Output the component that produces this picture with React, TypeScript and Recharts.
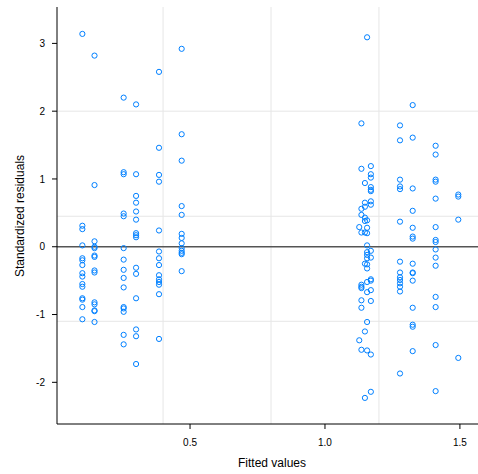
import React from 'react';
import { ScatterChart, Scatter, XAxis, YAxis, ReferenceLine, Label } from 'recharts';

// fitted value of each group of observations
const fittedLevels = [0.101, 0.146, 0.254, 0.3, 0.385, 0.469, 1.127, 1.135, 1.148, 1.156, 1.17, 1.278, 1.325, 1.41, 1.494];

// standardized residuals, one array per fitted level
const res0101 = [3.14, 0.31, 0.26, 0.02, -0.17, -0.2, -0.27, -0.39, -0.44, -0.55, -0.59, -0.76, -0.78, -0.89, -1.07];
const res0146 = [2.82, 0.91, 0.08, 0.0, -0.02, -0.13, -0.15, -0.35, -0.38, -0.82, -0.85, -0.94, -0.95, -1.11];
const res0254 = [2.2, 1.1, 1.07, 0.49, 0.45, -0.02, -0.19, -0.34, -0.46, -0.6, -0.89, -0.91, -0.96, -1.3, -1.44];
const res0300 = [2.1, 1.07, 0.75, 0.65, 0.52, 0.4, 0.2, 0.17, 0.14, -0.31, -0.4, -0.76, -1.22, -1.32, -1.73];
const res0385 = [2.58, 1.46, 1.06, 0.96, 0.24, -0.07, -0.17, -0.27, -0.42, -0.48, -0.52, -0.56, -0.7, -1.36];
const res0469 = [2.92, 1.66, 1.27, 0.6, 0.47, 0.19, 0.13, 0.05, -0.02, -0.06, -0.09, -0.11, -0.36];
const res1127 = [0.29, -1.38];
const res1135 = [1.82, 1.15, 0.56, 0.47, 0.21, -0.56, -0.59, -0.61, -0.79, -0.9, -1.52];
const res1148 = [0.94, 0.65, 0.59, 0.43, 0.38, 0.21, -0.25, -1.25, -2.23];
const res1156 = [3.09, 0.39, 0.28, 0.2, 0.02, -0.08, -0.12, -0.17, -0.26, -0.32, -0.52, -0.67, -1.11, -1.53];
const res1170 = [1.19, 1.07, 1.02, 0.88, 0.84, 0.82, 0.67, 0.62, -0.06, -0.16, -0.48, -0.5, -0.64, -0.8, -1.59, -2.14];
const res1278 = [1.79, 1.57, 0.99, 0.89, 0.85, 0.37, -0.22, -0.38, -0.45, -0.49, -0.54, -0.59, -0.66, -1.87];
const res1325 = [2.09, 1.61, 0.86, 0.53, 0.28, 0.15, 0.12, -0.25, -0.38, -0.39, -0.5, -0.9, -1.15, -1.18, -1.54];
const res1410 = [1.49, 1.36, 0.99, 0.96, 0.71, 0.29, 0.1, 0.07, -0.04, -0.16, -0.28, -0.74, -0.89, -1.45, -2.13];
const res1494 = [0.77, 0.74, 0.4, -1.64];

const residualGroups = [
  res0101, res0146, res0254, res0300, res0385, res0469,
  res1127, res1135, res1148, res1156, res1170, res1278, res1325, res1410, res1494,
];

const xTicks = [0.5, 1.0, 1.5];
const yTicks = [-2, -1, 0, 1, 2, 3];
const xGrid = [0.4, 0.8, 1.2];
const yGrid = [-1.1, 0.45, 2.0];

const points = residualGroups.flatMap((group, i) =>
  group.map((r) => ({ fitted: fittedLevels[i], resid: r }))
);

const FONT = '"Liberation Sans", Arial, Helvetica, sans-serif';
const X_DOMAIN: [number, number] = [0.007, 1.567];
const Y_DOMAIN: [number, number] = [-2.615, 3.537];

const OpenCircle = (props: any) => (
  <circle cx={props.cx} cy={props.cy} r={2.6} fill="none" stroke="#0080ff" strokeWidth={1} />
);

const App: React.FC = () => {
  return (
    <div style={{ position: 'absolute', left: 0, top: 0, fontFamily: FONT }}>
      <ScatterChart width={478} height={474} margin={{ top: 7, right: 0, bottom: 0, left: 0 }}>
        {xGrid.map((v) => (
          <ReferenceLine key={'gx' + v} xAxisId="bottom" x={v} stroke="#e6e6e6" strokeWidth={1} />
        ))}
        {yGrid.map((v) => (
          <ReferenceLine key={'gy' + v} xAxisId="bottom" y={v} stroke="#e6e6e6" strokeWidth={1} />
        ))}
        <ReferenceLine xAxisId="bottom" y={0} stroke="#555555" strokeWidth={1.5} />
        <XAxis
          xAxisId="bottom"
          dataKey="fitted"
          type="number"
          domain={X_DOMAIN}
          allowDataOverflow
          ticks={xTicks}
          tickFormatter={(v: number) => v.toFixed(1)}
          height={50}
          tickSize={5}
          tickMargin={10}
          axisLine={{ stroke: '#000' }}
          tickLine={{ stroke: '#000' }}
          tick={{ fontSize: 10, fill: '#000', fontFamily: FONT }}
        >
          <Label
            content={() => (
              <text x={272} y={467} textAnchor="middle" fontSize={12} fontFamily={FONT} fill="#000">
                Fitted values
              </text>
            )}
          />
        </XAxis>
        <XAxis
          xAxisId="top"
          orientation="top"
          type="number"
          domain={X_DOMAIN}
          allowDataOverflow
          ticks={xTicks}
          height={0}
          tickSize={5}
          tick={false}
          axisLine={{ stroke: '#000' }}
          tickLine={{ stroke: '#000' }}
        />
        <YAxis
          dataKey="resid"
          type="number"
          domain={Y_DOMAIN}
          allowDataOverflow
          ticks={yTicks}
          width={57}
          tickSize={5}
          tickMargin={7}
          axisLine={{ stroke: '#000' }}
          tickLine={{ stroke: '#000' }}
          tick={{ fontSize: 10, fill: '#000', fontFamily: FONT }}
        >
          <Label
            content={() => (
              <text
                x={20}
                y={216}
                transform="rotate(-90 20 216)"
                textAnchor="middle"
                dominantBaseline="central"
                fontSize={12}
                fontFamily={FONT}
                fill="#000"
              >
                Standardized residuals
              </text>
            )}
          />
        </YAxis>
        <Scatter
          xAxisId="bottom"
          data={points}
          shape={OpenCircle}
          isAnimationActive={false}
        />
      </ScatterChart>
    </div>
  );
};

export default App;
